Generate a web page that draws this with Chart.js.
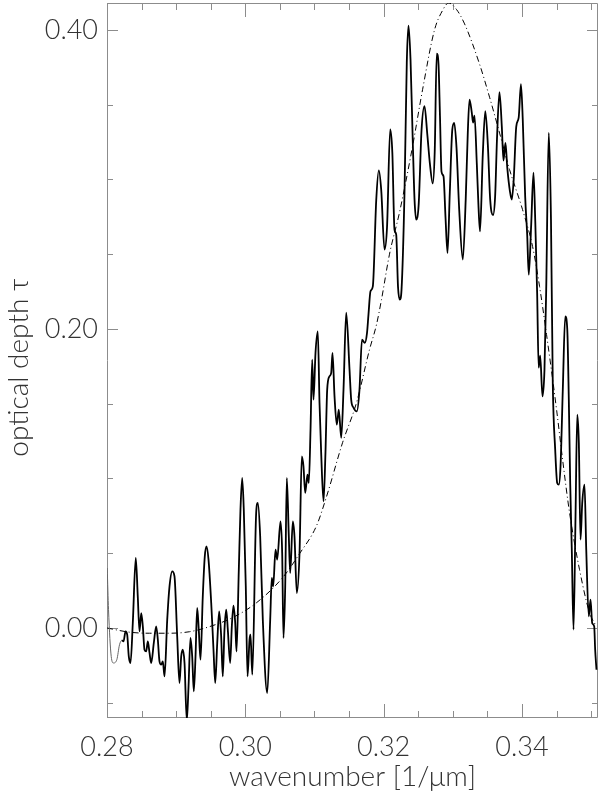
<!DOCTYPE html>
<html>
<head>
<meta charset="utf-8">
<script src="https://cdn.jsdelivr.net/npm/chart.js@4.4.1/dist/chart.umd.min.js"></script>
<style>
  html, body { margin: 0; padding: 0; background: #fff; }
  #wrap { width: 600px; height: 797px; }
</style>
</head>
<body>
<div id="wrap"><canvas id="spectrum"></canvas></div>
<script>
"use strict";

// observed optical depth spectrum
const wavenumber = [
    0.28003, 0.28022, 0.28061, 0.28094, 0.28142, 0.28181, 0.28214, 0.28239, 0.28268, 0.28292,
    0.28315, 0.28340, 0.28373, 0.28416, 0.28445, 0.28470, 0.28495, 0.28518, 0.28542, 0.28567,
    0.28590, 0.28615, 0.28639, 0.28677, 0.28711, 0.28735, 0.28759, 0.28784, 0.28807, 0.28832,
    0.28871, 0.28904, 0.28943, 0.28976, 0.29015, 0.29048, 0.29073, 0.29096, 0.29121, 0.29154,
    0.29179, 0.29207, 0.29232, 0.29255, 0.29280, 0.29304, 0.29327, 0.29352, 0.29385, 0.29414,
    0.29439, 0.29468, 0.29507, 0.29540, 0.29565, 0.29594, 0.29622, 0.29651, 0.29674, 0.29699,
    0.29724, 0.29747, 0.29781, 0.29805, 0.29829, 0.29854, 0.29873, 0.29906, 0.29930, 0.29955,
    0.29978, 0.30007, 0.30032, 0.30061, 0.30075, 0.30101,
    0.30157, 0.30181, 0.30215, 0.30253, 0.30317, 0.30360, 0.30383, 0.30403, 0.30437, 0.30461,
    0.30509, 0.30533, 0.30552, 0.30577, 0.30600, 0.30629, 0.30649, 0.30687, 0.30711, 0.30745,
    0.30784, 0.30817, 0.30841, 0.30866, 0.30899, 0.30918, 0.30943, 0.30967, 0.30986, 0.31015,
    0.31048, 0.31073, 0.31097, 0.31131, 0.31159, 0.31184, 0.31217, 0.31242, 0.31261, 0.31290,
    0.31323, 0.31352, 0.31387, 0.31420, 0.31459, 0.31507, 0.31531, 0.31564, 0.31612, 0.31651,
    0.31687, 0.31728, 0.31760, 0.31781, 0.31810, 0.31844, 0.31893, 0.31930, 0.31965, 0.32013,
    0.32049, 0.32095, 0.32126, 0.32157, 0.32182, 0.32208, 0.32234, 0.32259, 0.32302, 0.32335,
    0.32360, 0.32389, 0.32422, 0.32447, 0.32471, 0.32507, 0.32548, 0.32591, 0.32632, 0.32668,
    0.32711, 0.32739, 0.32768, 0.32794, 0.32815, 0.32837, 0.32866, 0.32895, 0.32924, 0.32957,
    0.32993, 0.33021, 0.33054, 0.33093, 0.33145, 0.33187, 0.33217, 0.33242, 0.33275, 0.33293,
    0.33314, 0.33348, 0.33372, 0.33394, 0.33434, 0.33470, 0.33507, 0.33541, 0.33582, 0.33613,
    0.33639, 0.33675, 0.33709, 0.33733, 0.33762, 0.33788, 0.33827, 0.33853, 0.33881, 0.33918,
    0.33953, 0.33986, 0.34012, 0.34047, 0.34076, 0.34099, 0.34134, 0.34167, 0.34193, 0.34220,
    0.34242, 0.34264, 0.34297, 0.34326, 0.34351, 0.34388, 0.34420, 0.34446, 0.34481, 0.34510,
    0.34533, 0.34558, 0.34591, 0.34626, 0.34656, 0.34678, 0.34698, 0.34721, 0.34746, 0.34775,
    0.34800, 0.34823, 0.34847, 0.34872, 0.34905, 0.34930, 0.34967, 0.34992, 0.35016, 0.35045,
    0.35059, 0.35078
];
const tau = [
    0.0401, 0.0122, -0.0190, -0.0234, -0.0212, -0.0112, -0.0083, -0.0090, -0.0023, -0.0045,
    -0.0190, -0.0234, 0.0033, 0.0468, 0.0211, -0.0023, 0.0100, 0.0011, -0.0145, -0.0157,
    -0.0090, -0.0167, -0.0234, -0.0100, 0.0011, -0.0078, -0.0223, -0.0245, -0.0223, -0.0324,
    0.0056, 0.0278, 0.0379, 0.0345, -0.0056, -0.0368, -0.0190, -0.0145, -0.0234, -0.0620,
    -0.0391, -0.0067, -0.0190, -0.0424, -0.0190, 0.0134, -0.0011, -0.0212, 0.0211, 0.0479,
    0.0546, 0.0457, 0.0167, -0.0145, -0.0368, -0.0100, 0.0111, -0.0056, -0.0324, -0.0011,
    0.0122, -0.0011, -0.0234, 0.0011, 0.0149, 0.0033, -0.0157, 0.0390, 0.0791, 0.1003,
    0.0791, 0.0278, -0.0324, -0.0078, -0.0045, -0.0312,
    0.0769, 0.0836, 0.0613, 0.0056, -0.0435, 0.0056, 0.0335, 0.0278, 0.0524, 0.0457,
    0.0713, 0.0502, -0.0067, 0.0278, 0.1003, 0.0613, 0.0368, 0.0713, 0.0613, 0.0234,
    0.0502, 0.1147, 0.1081, 0.0903, 0.1025, 0.0970, 0.1326, 0.1795, 0.1527, 0.1840,
    0.1984, 0.1505, 0.1171, 0.0847, 0.1171, 0.1594, 0.1683, 0.1706, 0.1840, 0.1549,
    0.1360, 0.1460, 0.1271, 0.1594, 0.2109, 0.1728, 0.1527, 0.1474, 0.1449, 0.1594,
    0.1929, 0.1907, 0.1974, 0.2096, 0.2252, 0.2285, 0.2859, 0.3061, 0.2932, 0.2531,
    0.2678, 0.3334, 0.3180, 0.2665, 0.2631, 0.2283, 0.2196, 0.2263, 0.2912, 0.3782,
    0.4029, 0.3802, 0.3247, 0.2865, 0.2732, 0.2832, 0.3327, 0.3490, 0.3300, 0.3111,
    0.2973, 0.3187, 0.3842, 0.3768, 0.3422, 0.3052, 0.3021, 0.2745, 0.2508, 0.2912,
    0.3333, 0.3378, 0.3213, 0.2798, 0.2464, 0.2865, 0.3311, 0.3534, 0.3447, 0.3380,
    0.3427, 0.3099, 0.2818, 0.2653, 0.3166, 0.3456, 0.3233, 0.2865, 0.2762, 0.2892,
    0.3267, 0.3583, 0.3355, 0.3126, 0.3244, 0.3079, 0.2919, 0.2865, 0.2999, 0.3353,
    0.3413, 0.3638, 0.3400, 0.2885, 0.2631, 0.2363, 0.2698, 0.3046, 0.2718, 0.2241,
    0.1741, 0.1822, 0.1549, 0.1728, 0.2263, 0.3311, 0.2732, 0.1639, 0.1193, 0.0970,
    0.0959, 0.1081, 0.1594, 0.2084, 0.1995, 0.1527, 0.0970, 0.0524, -0.0011, 0.0747,
    0.1427, 0.1237, 0.0591, 0.0836, 0.0959, 0.0524, 0.0078, 0.0189, 0.0033, 0.0011,
    -0.0145, -0.0279
];

// fitted profile (dash-dot)
const modelWavenumber = [
    0.28000, 0.28325, 0.28615, 0.28904, 0.29193, 0.29482, 0.29815, 0.30162, 0.30538, 0.30784,
    0.31030, 0.31174, 0.31406, 0.31608, 0.31796, 0.31897, 0.31969, 0.32085, 0.32230, 0.32418,
    0.32563, 0.32736, 0.32852, 0.32939, 0.33055, 0.33171, 0.33388, 0.33532, 0.33677, 0.33821,
    0.34009, 0.34154, 0.34255, 0.34356, 0.34501, 0.34587, 0.34689, 0.34833, 0.34978, 0.35078
];
const modelTau = [
    0.0000, -0.0028, -0.0035, -0.0035, -0.0025, 0.0009, 0.0069, 0.0169, 0.0336, 0.0497,
    0.0684, 0.0878, 0.1239, 0.1507, 0.1862, 0.2029, 0.2196, 0.2500, 0.2780, 0.3220,
    0.3600, 0.4000, 0.4130, 0.4180, 0.4136, 0.4040, 0.3770, 0.3550, 0.3310, 0.3066,
    0.2798, 0.2551, 0.2284, 0.1962, 0.1460, 0.1130, 0.0770, 0.0390, 0.0102, 0.0009
];

// axes
const xRange = [0.28, 0.351];
const yRange = [-0.0602, 0.418];
const xMajorTicks = [0.28, 0.30, 0.32, 0.34];
const xMinorTicks = [0.285, 0.29, 0.295, 0.305, 0.31, 0.315, 0.325, 0.33, 0.335, 0.345, 0.35];
const yMajorTicks = [0.00, 0.20, 0.40];
const yMinorTicks = [-0.05, 0.05, 0.10, 0.15, 0.25, 0.30, 0.35];

const axisColor = '#8c8c8c';
const textColor = '#333333';
const fontFamily = 'Lato, "DejaVu Sans", sans-serif';
const labelFont = { family: fontFamily, size: 27, weight: 300 };
const titleFont = { family: fontFamily, size: 28, weight: 300 };

// frame plus inward ticks on all four sides, like the original plot
const frameTicks = {
    id: 'frameTicks',
    beforeDatasetsDraw: function (chart) {
        const ctx = chart.ctx;
        const a = chart.chartArea;
        const x = chart.scales.x;
        const y = chart.scales.y;
        ctx.save();
        ctx.strokeStyle = axisColor;
        ctx.lineWidth = 1;
        ctx.beginPath();
        ctx.rect(Math.round(a.left) + 0.5, Math.round(a.top) + 0.5,
            Math.round(a.width) - 1, Math.round(a.height) - 1);

        const xTick = function (v, len) {
            const px = Math.round(x.getPixelForValue(v)) + 0.5;
            ctx.moveTo(px, a.bottom); ctx.lineTo(px, a.bottom - len);
            ctx.moveTo(px, a.top); ctx.lineTo(px, a.top + len);
        };
        const yTick = function (v, len) {
            const py = Math.round(y.getPixelForValue(v)) + 0.5;
            ctx.moveTo(a.left, py); ctx.lineTo(a.left + len, py);
            ctx.moveTo(a.right, py); ctx.lineTo(a.right - len, py);
        };
        xMajorTicks.forEach(v => xTick(v, 14));
        xMinorTicks.forEach(v => xTick(v, 7));
        yMajorTicks.forEach(v => yTick(v, 11));
        yMinorTicks.forEach(v => yTick(v, 6));
        ctx.stroke();
        ctx.restore();
    }
};

const points = wavenumber.map((w, i) => ({ x: w, y: tau[i] }));
const modelPoints = modelWavenumber.map((w, i) => ({ x: w, y: modelTau[i] }));

const ctx = document.getElementById('spectrum');
const chart = new Chart(ctx, {
    type: 'line',
    data: {
        datasets: [
            {
                label: 'observed',
                data: points,
                borderColor: '#000',
                borderWidth: 1.8,
                pointRadius: 0,
                cubicInterpolationMode: 'monotone',
                segment: {
                    borderWidth: c => c.p0DataIndex < 6 ? 1 : 1.8,
                    borderColor: c => c.p0DataIndex < 6 ? '#666' : '#000'
                }
            },
            {
                label: 'profile',
                data: modelPoints,
                borderColor: '#000',
                borderWidth: 1,
                borderDash: [6, 3, 1, 3],
                pointRadius: 0,
                cubicInterpolationMode: 'monotone'
            }
        ]
    },
    options: {
        responsive: true,
        maintainAspectRatio: false,
        animation: false,
        events: [],
        layout: {
            padding: { top: 3, right: 2, left: 0, bottom: 0 }
        },
        plugins: {
            legend: { display: false },
            tooltip: { enabled: false }
        },
        scales: {
            x: {
                type: 'linear',
                min: xRange[0],
                max: xRange[1],
                grid: { display: false, drawTicks: false },
                border: { display: false },
                afterBuildTicks: s => { s.ticks = xMajorTicks.map(v => ({ value: v })); },
                afterFit: s => { s.height = 79; s.paddingLeft = 0; s.paddingRight = 0; },
                ticks: {
                    color: textColor,
                    padding: 13,
                    maxRotation: 0,
                    font: labelFont,
                    callback: v => v.toFixed(2)
                },
                title: {
                    display: true,
                    text: 'wavenumber [1/μm]',
                    color: textColor,
                    padding: { top: 0, bottom: 3 },
                    font: titleFont
                }
            },
            y: {
                type: 'linear',
                min: yRange[0],
                max: yRange[1],
                grid: { display: false, drawTicks: false },
                border: { display: false },
                afterBuildTicks: s => { s.ticks = yMajorTicks.map(v => ({ value: v })); },
                afterFit: s => { s.width = 107; s.paddingTop = 0; s.paddingBottom = 0; },
                ticks: {
                    color: textColor,
                    padding: 9,
                    font: labelFont,
                    callback: v => v.toFixed(2)
                },
                title: {
                    display: true,
                    text: 'optical depth τ\u2002',
                    color: textColor,
                    padding: { top: 2, bottom: 0 },
                    font: titleFont
                }
            }
        }
    },
    plugins: [frameTicks]
});
</script>
</body>
</html>
